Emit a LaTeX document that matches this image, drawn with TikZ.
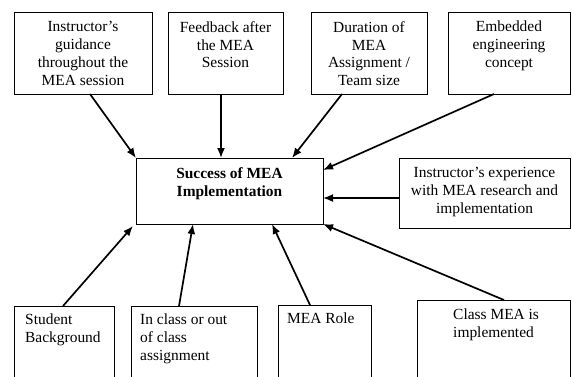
\documentclass[tikz,border=0pt]{standalone}
\usepackage{fontspec}
\setmainfont{Liberation Serif}
\usetikzlibrary{arrows.meta,calc}
\begin{document}
\begin{tikzpicture}[x=1bp,y=-1bp,
  box/.style={draw,line width=0.9bp,inner sep=0pt,outer sep=0pt,anchor=north west},
  txt/.style={font=\fontsize{15.5}{18}\selectfont,inner sep=0pt,align=center,anchor=north},
  ltxt/.style={font=\fontsize{15.5}{18}\selectfont,inner sep=0pt,align=left,anchor=north west},
  arr/.style={-{Latex[length=10bp,width=8bp]},line width=1.7bp}]
\useasboundingbox (0,0) rectangle (572,376);
\clip (0,0) rectangle (572,376);
\fill[white] (0,0) rectangle (572,376);
% top boxes
\node[box,minimum width=138bp,minimum height=82bp] (b1) at (14,12) {};
\node[box,minimum width=115bp,minimum height=82bp] (b2) at (168,12) {};
\node[box,minimum width=116bp,minimum height=82bp] (b3) at (311,12) {};
\node[box,minimum width=122bp,minimum height=82bp] (b4) at (448,12) {};
\node[txt] (t1) at ($(b1.north)+(0,9)$) {Instructor’s\\guidance\\throughout the\\MEA session};
\node[txt] (t2) at ($(b2.north)+(0,9)$) {Feedback after\\the MEA\\Session};
\node[txt] (t3) at ($(b3.north)+(0,9)$) {Duration of\\MEA\\Assignment /\\Team size};
\node[txt] (t4) at ($(b4.north)+(0,9)$) {Embedded\\engineering\\concept};
% centre box
\node[box,minimum width=187bp,minimum height=66bp] (c) at (136,158) {};
\node[txt,font=\fontsize{15.5}{18}\selectfont\bfseries] (tc) at ($(c.north)+(0,9)$) {Success of MEA\\Implementation};
% right box
\node[box,minimum width=171bp,minimum height=70bp] (r) at (399,158) {};
\node[txt] (tr) at ($(r.north)+(0,9)$) {Instructor’s experience\\with MEA research and\\implementation};
% bottom boxes (cut off at the lower edge)
\node[box,minimum width=100bp,minimum height=100bp] (sb) at (14,306) {};
\node[box,minimum width=126bp,minimum height=100bp] (ic) at (131,306) {};
\node[box,minimum width=93bp,minimum height=100bp] (mr) at (278,305) {};
\node[box,minimum width=153bp,minimum height=100bp] (cm) at (417,300) {};
\node[ltxt] (tsb) at ($(sb.north west)+(11,8)$) {Student\\Background};
\node[ltxt] (tic) at ($(ic.north west)+(9,8)$) {In class or out\\of class\\assignment};
\node[ltxt] (tmr) at ($(mr.north west)+(9,8)$) {MEA Role};
\node[ltxt] (tcm) at ($(cm.north west)+(36,9)$) {Class MEA is\\implemented};
% connectors
\draw[arr] ($(b1.south)+(7,0)$) -- (c.north west);
\draw[arr] ($(b2.south)+(-4.5,0)$) -- ($(c.north west)+(85,0)$);
\draw[arr] ($(b3.south)+(-27,0)$) -- ($(c.north east)+(-31,0)$);
\draw[arr] ($(b4.south)+(-15,0)$) -- ($(c.north east)+(0,12)$);
\draw[arr] ($(r.west)+(0,5)$) -- ($(c.east)+(0,7)$);
\draw[arr] ($(cm.north west)+(87,0)$) -- (c.south east);
\draw[arr] ($(mr.north west)+(32,0)$) -- ($(c.south west)+(136,0)$);
\draw[arr] ($(ic.north west)+(48,0)$) -- ($(c.south west)+(57,0)$);
\draw[arr] ($(sb.north west)+(49,0)$) -- ($(c.south west)+(-3,2)$);
\end{tikzpicture}
\end{document}
